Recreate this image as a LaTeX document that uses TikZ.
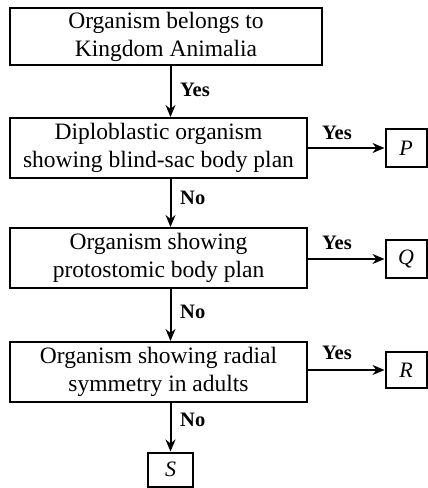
\documentclass[tikz,border=0pt]{standalone}
\usepackage{fontspec}
\setmainfont{Liberation Serif}
\usetikzlibrary{arrows.meta}
\begin{document}
\begin{tikzpicture}[x=1pt,y=-1pt,
  box/.style={draw,line width=2pt,inner sep=0pt,align=center,font=\fontsize{23.5}{28}\selectfont},
  res/.style={draw,line width=2pt,inner sep=0pt,font=\fontsize{22}{26}\selectfont\itshape},
  arr/.style={line width=2pt,-{Stealth[length=12pt,width=10pt]}},
  lab/.style={font=\fontsize{20.5}{24}\selectfont\bfseries,inner sep=0pt}]
\useasboundingbox (0,0) rectangle (428,488);
\node[box,minimum width=312pt,minimum height=57pt] (b1) at (166,36.5) {Organism belongs to\\Kingdom Animalia};
\node[box,minimum width=297pt,minimum height=60pt] (b2) at (158.5,148) {Diploblastic organism\\showing blind-sac body plan};
\node[box,minimum width=297pt,minimum height=60pt] (b3) at (158.5,258) {Organism showing\\protostomic body plan};
\node[box,minimum width=297pt,minimum height=60pt] (b4) at (158.5,372) {Organism showing radial\\symmetry in adults};
\node[res,minimum width=41pt,minimum height=38pt] (P) at (406,148) {P};
\node[res,minimum width=41pt,minimum height=38pt] (Q) at (406,259) {Q};
\node[res,minimum width=41pt,minimum height=36pt] (R) at (406,370) {R};
\node[res,minimum width=45pt,minimum height=34pt] (S) at (170.5,469.5) {S};
\draw[arr] (b1.south -| S) -- (b2.north -| S);
\draw[arr] (b2.south -| S) -- (b3.north -| S);
\draw[arr] (b3.south -| S) -- (b4.north -| S);
\draw[arr] (b4.south -| S) -- (S.north);
\draw[arr] (b2.east) -- (P.west);
\draw[arr] (b3.east |- Q) -- (Q.west);
\draw[arr] (b4.east |- R) -- (R.west);
\node[lab,anchor=west] (y1) at (180,90) {Yes};
\node[lab,anchor=west] (n1) at (180,198) {No};
\node[lab,anchor=west] (n2) at (180,312) {No};
\node[lab,anchor=west] (n3) at (180,420) {No};
\node[lab] (y2) at (337,133) {Yes};
\node[lab] (y3) at (337,243) {Yes};
\node[lab] (y4) at (337,353) {Yes};
\end{tikzpicture}
\end{document}
